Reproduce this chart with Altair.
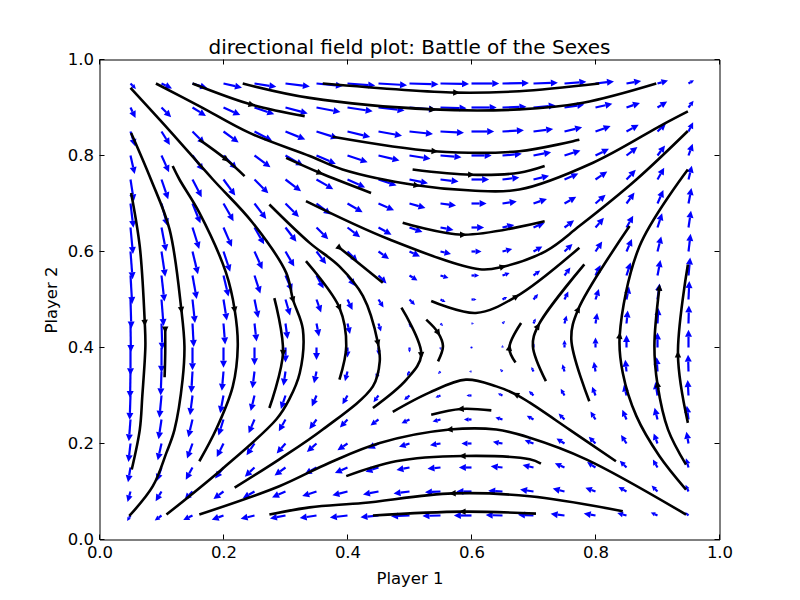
import math
import altair as alt
import pandas as pd

FONT = "DejaVu Sans"

# ---------------- axis ticks ----------------
x_ticks = [0.0, 0.2, 0.4, 0.6, 0.8, 1.0]
y_ticks = [0.0, 0.2, 0.4, 0.6, 0.8, 1.0]

# ---------------- quiver grid ----------------
grid_x = [0.05, 0.10, 0.15, 0.20, 0.25, 0.30, 0.35, 0.40, 0.45, 0.50,
          0.55, 0.60, 0.65, 0.70, 0.75, 0.80, 0.85, 0.90, 0.95]
grid_y = [0.05, 0.10, 0.15, 0.20, 0.25, 0.30, 0.35, 0.40, 0.45, 0.50,
          0.55, 0.60, 0.65, 0.70, 0.75, 0.80, 0.85, 0.90, 0.95]

# horizontal arrow component, one row per grid_y value (bottom to top)
U = [
    [-0.08, -0.16, -0.22, -0.28, -0.33, -0.37, -0.40, -0.42, -0.43, -0.44, -0.43, -0.42, -0.40, -0.37, -0.33, -0.28, -0.22, -0.16, -0.08],
    [-0.07, -0.14, -0.19, -0.24, -0.28, -0.32, -0.34, -0.36, -0.37, -0.38, -0.37, -0.36, -0.34, -0.32, -0.28, -0.24, -0.19, -0.14, -0.07],
    [-0.06, -0.11, -0.16, -0.20, -0.23, -0.26, -0.28, -0.30, -0.31, -0.31, -0.31, -0.30, -0.28, -0.26, -0.23, -0.20, -0.16, -0.11, -0.06],
    [-0.05, -0.09, -0.13, -0.16, -0.19, -0.21, -0.23, -0.24, -0.25, -0.25, -0.25, -0.24, -0.23, -0.21, -0.19, -0.16, -0.13, -0.09, -0.05],
    [-0.04, -0.07, -0.10, -0.12, -0.14, -0.16, -0.17, -0.18, -0.19, -0.19, -0.19, -0.18, -0.17, -0.16, -0.14, -0.12, -0.10, -0.07, -0.04],
    [-0.02, -0.05, -0.06, -0.08, -0.09, -0.11, -0.11, -0.12, -0.12, -0.13, -0.12, -0.12, -0.11, -0.11, -0.09, -0.08, -0.06, -0.05, -0.02],
    [-0.01, -0.02, -0.03, -0.04, -0.05, -0.05, -0.06, -0.06, -0.06, -0.06, -0.06, -0.06, -0.06, -0.05, -0.05, -0.04, -0.03, -0.02, -0.01],
    [0.00, 0.00, 0.00, 0.00, 0.00, 0.00, 0.00, 0.00, 0.00, 0.00, 0.00, 0.00, 0.00, 0.00, 0.00, 0.00, 0.00, 0.00, 0.00],
    [0.01, 0.02, 0.03, 0.04, 0.05, 0.05, 0.06, 0.06, 0.06, 0.06, 0.06, 0.06, 0.06, 0.05, 0.05, 0.04, 0.03, 0.02, 0.01],
    [0.02, 0.05, 0.06, 0.08, 0.09, 0.11, 0.11, 0.12, 0.12, 0.13, 0.12, 0.12, 0.11, 0.11, 0.09, 0.08, 0.06, 0.05, 0.02],
    [0.04, 0.07, 0.10, 0.12, 0.14, 0.16, 0.17, 0.18, 0.19, 0.19, 0.19, 0.18, 0.17, 0.16, 0.14, 0.12, 0.10, 0.07, 0.04],
    [0.05, 0.09, 0.13, 0.16, 0.19, 0.21, 0.23, 0.24, 0.25, 0.25, 0.25, 0.24, 0.23, 0.21, 0.19, 0.16, 0.13, 0.09, 0.05],
    [0.06, 0.11, 0.16, 0.20, 0.23, 0.26, 0.28, 0.30, 0.31, 0.31, 0.31, 0.30, 0.28, 0.26, 0.23, 0.20, 0.16, 0.11, 0.06],
    [0.07, 0.14, 0.19, 0.24, 0.28, 0.32, 0.34, 0.36, 0.37, 0.38, 0.37, 0.36, 0.34, 0.32, 0.28, 0.24, 0.19, 0.14, 0.07],
    [0.08, 0.16, 0.22, 0.28, 0.33, 0.37, 0.40, 0.42, 0.43, 0.44, 0.43, 0.42, 0.40, 0.37, 0.33, 0.28, 0.22, 0.16, 0.08],
    [0.10, 0.18, 0.26, 0.32, 0.38, 0.42, 0.46, 0.48, 0.50, 0.50, 0.50, 0.48, 0.46, 0.42, 0.38, 0.32, 0.26, 0.18, 0.10],
    [0.11, 0.20, 0.29, 0.36, 0.42, 0.47, 0.51, 0.54, 0.56, 0.56, 0.56, 0.54, 0.51, 0.47, 0.42, 0.36, 0.29, 0.20, 0.11],
    [0.12, 0.23, 0.32, 0.40, 0.47, 0.53, 0.57, 0.60, 0.62, 0.63, 0.62, 0.60, 0.57, 0.53, 0.47, 0.40, 0.32, 0.23, 0.12],
    [0.13, 0.25, 0.35, 0.44, 0.52, 0.58, 0.63, 0.66, 0.68, 0.69, 0.68, 0.66, 0.63, 0.58, 0.52, 0.44, 0.35, 0.25, 0.13],
]

# vertical arrow component, one row per grid_y value (bottom to top)
V = [
    [-0.13, -0.12, -0.11, -0.10, -0.08, -0.07, -0.06, -0.05, -0.04, -0.02, -0.01, 0.00, 0.01, 0.02, 0.04, 0.05, 0.06, 0.07, 0.08],
    [-0.25, -0.23, -0.20, -0.18, -0.16, -0.14, -0.11, -0.09, -0.07, -0.05, -0.02, 0.00, 0.02, 0.05, 0.07, 0.09, 0.11, 0.14, 0.16],
    [-0.35, -0.32, -0.29, -0.26, -0.22, -0.19, -0.16, -0.13, -0.10, -0.06, -0.03, 0.00, 0.03, 0.06, 0.10, 0.13, 0.16, 0.19, 0.22],
    [-0.44, -0.40, -0.36, -0.32, -0.28, -0.24, -0.20, -0.16, -0.12, -0.08, -0.04, 0.00, 0.04, 0.08, 0.12, 0.16, 0.20, 0.24, 0.28],
    [-0.52, -0.47, -0.42, -0.38, -0.33, -0.28, -0.23, -0.19, -0.14, -0.09, -0.05, 0.00, 0.05, 0.09, 0.14, 0.19, 0.23, 0.28, 0.33],
    [-0.58, -0.53, -0.47, -0.42, -0.37, -0.32, -0.26, -0.21, -0.16, -0.11, -0.05, 0.00, 0.05, 0.11, 0.16, 0.21, 0.26, 0.32, 0.37],
    [-0.63, -0.57, -0.51, -0.46, -0.40, -0.34, -0.28, -0.23, -0.17, -0.11, -0.06, 0.00, 0.06, 0.11, 0.17, 0.23, 0.28, 0.34, 0.40],
    [-0.66, -0.60, -0.54, -0.48, -0.42, -0.36, -0.30, -0.24, -0.18, -0.12, -0.06, 0.00, 0.06, 0.12, 0.18, 0.24, 0.30, 0.36, 0.42],
    [-0.68, -0.62, -0.56, -0.50, -0.43, -0.37, -0.31, -0.25, -0.19, -0.12, -0.06, 0.00, 0.06, 0.12, 0.19, 0.25, 0.31, 0.37, 0.43],
    [-0.69, -0.63, -0.56, -0.50, -0.44, -0.38, -0.31, -0.25, -0.19, -0.13, -0.06, 0.00, 0.06, 0.13, 0.19, 0.25, 0.31, 0.38, 0.44],
    [-0.68, -0.62, -0.56, -0.50, -0.43, -0.37, -0.31, -0.25, -0.19, -0.12, -0.06, 0.00, 0.06, 0.12, 0.19, 0.25, 0.31, 0.37, 0.43],
    [-0.66, -0.60, -0.54, -0.48, -0.42, -0.36, -0.30, -0.24, -0.18, -0.12, -0.06, 0.00, 0.06, 0.12, 0.18, 0.24, 0.30, 0.36, 0.42],
    [-0.63, -0.57, -0.51, -0.46, -0.40, -0.34, -0.28, -0.23, -0.17, -0.11, -0.06, 0.00, 0.06, 0.11, 0.17, 0.23, 0.28, 0.34, 0.40],
    [-0.58, -0.53, -0.47, -0.42, -0.37, -0.32, -0.26, -0.21, -0.16, -0.11, -0.05, 0.00, 0.05, 0.11, 0.16, 0.21, 0.26, 0.32, 0.37],
    [-0.52, -0.47, -0.42, -0.38, -0.33, -0.28, -0.23, -0.19, -0.14, -0.09, -0.05, 0.00, 0.05, 0.09, 0.14, 0.19, 0.23, 0.28, 0.33],
    [-0.44, -0.40, -0.36, -0.32, -0.28, -0.24, -0.20, -0.16, -0.12, -0.08, -0.04, 0.00, 0.04, 0.08, 0.12, 0.16, 0.20, 0.24, 0.28],
    [-0.35, -0.32, -0.29, -0.26, -0.22, -0.19, -0.16, -0.13, -0.10, -0.06, -0.03, 0.00, 0.03, 0.06, 0.10, 0.13, 0.16, 0.19, 0.22],
    [-0.25, -0.23, -0.20, -0.18, -0.16, -0.14, -0.11, -0.09, -0.07, -0.05, -0.02, 0.00, 0.02, 0.05, 0.07, 0.09, 0.11, 0.14, 0.16],
    [-0.13, -0.12, -0.11, -0.10, -0.08, -0.07, -0.06, -0.05, -0.04, -0.02, -0.01, 0.00, 0.01, 0.02, 0.04, 0.05, 0.06, 0.07, 0.08],
]

# ---------------- streamlines (points listed in the direction of flow) ----------------
left_1 = [(0.051, 0.722), (0.065, 0.610), (0.073, 0.452), (0.074, 0.403), (0.069, 0.298), (0.065, 0.229), (0.052, 0.146)]
left_2 = [(0.106, 0.438), (0.106, 0.388), (0.105, 0.338)]
left_3 = [(0.051, 0.847), (0.083, 0.750), (0.113, 0.646), (0.132, 0.479), (0.137, 0.403), (0.134, 0.333), (0.121, 0.229), (0.108, 0.181), (0.086, 0.111), (0.048, 0.049)]
left_4 = [(0.118, 0.778), (0.129, 0.750), (0.161, 0.681), (0.204, 0.556), (0.218, 0.479), (0.223, 0.403), (0.215, 0.319), (0.188, 0.229), (0.161, 0.163)]
left_5 = [(0.050, 0.941), (0.113, 0.852), (0.183, 0.750), (0.247, 0.660), (0.301, 0.556), (0.312, 0.500), (0.328, 0.438), (0.323, 0.347), (0.306, 0.292), (0.285, 0.250), (0.197, 0.146), (0.108, 0.052)]
left_6 = [(0.282, 0.503), (0.296, 0.389), (0.274, 0.274)]
left_7 = [(0.274, 0.698), (0.339, 0.618), (0.387, 0.569), (0.425, 0.507), (0.449, 0.410), (0.452, 0.371), (0.441, 0.319), (0.360, 0.229), (0.290, 0.167), (0.218, 0.108)]
left_8 = [(0.333, 0.580), (0.387, 0.483), (0.398, 0.403), (0.387, 0.333)]
left_9 = [(0.387, 0.608), (0.457, 0.535)]
center_1 = [(0.527, 0.458), (0.546, 0.431), (0.554, 0.403), (0.546, 0.371)]
center_2 = [(0.487, 0.483), (0.519, 0.385), (0.495, 0.333), (0.441, 0.274)]
top_1 = [(0.301, 0.795), (0.355, 0.764), (0.438, 0.722)]
top_2 = [(0.091, 0.950), (0.161, 0.903), (0.242, 0.847), (0.339, 0.799), (0.392, 0.771), (0.511, 0.738), (0.600, 0.727), (0.677, 0.729), (0.796, 0.785), (0.909, 0.865), (0.949, 0.892)]
top_3 = [(0.231, 0.950), (0.339, 0.920), (0.537, 0.896), (0.677, 0.896), (0.780, 0.910), (0.898, 0.950)]
top_4 = [(0.360, 0.950), (0.575, 0.931), (0.677, 0.934), (0.806, 0.950)]
top_5 = [(0.376, 0.839), (0.540, 0.809), (0.677, 0.809), (0.774, 0.833)]
top_6 = [(0.505, 0.771), (0.599, 0.760), (0.677, 0.764), (0.718, 0.778)]
top_7 = [(0.333, 0.705), (0.468, 0.625), (0.613, 0.563), (0.650, 0.568), (0.720, 0.601), (0.774, 0.653), (0.866, 0.750), (0.949, 0.851)]
top_8 = [(0.535, 0.497), (0.607, 0.472), (0.672, 0.506), (0.774, 0.608)]
top_9 = [(0.489, 0.660), (0.586, 0.635), (0.718, 0.663)]
top_10 = [(0.150, 0.950), (0.245, 0.906), (0.331, 0.882)]
top_11 = [(0.161, 0.833), (0.204, 0.792), (0.234, 0.757)]
right_1 = [(0.671, 0.369), (0.661, 0.399), (0.680, 0.451)]
right_2 = [(0.720, 0.330), (0.699, 0.403), (0.707, 0.444), (0.782, 0.573)]
right_3 = [(0.790, 0.288), (0.761, 0.417), (0.772, 0.479), (0.855, 0.653)]
right_4 = [(0.946, 0.104), (0.903, 0.174), (0.866, 0.257), (0.844, 0.347), (0.839, 0.424), (0.871, 0.611), (0.949, 0.771)]
right_5 = [(0.946, 0.156), (0.917, 0.229), (0.900, 0.323), (0.895, 0.403), (0.903, 0.524)]
right_6 = [(0.949, 0.243), (0.933, 0.385), (0.949, 0.573)]
bottom_1 = [(0.833, 0.163), (0.758, 0.229), (0.694, 0.285), (0.672, 0.302), (0.640, 0.319), (0.591, 0.333), (0.532, 0.306), (0.473, 0.266)]
bottom_2 = [(0.632, 0.269), (0.583, 0.272), (0.535, 0.260)]
bottom_3 = [(0.946, 0.052), (0.785, 0.167), (0.694, 0.212), (0.640, 0.229), (0.565, 0.229), (0.452, 0.201), (0.371, 0.160), (0.290, 0.111), (0.161, 0.052)]
bottom_4 = [(0.712, 0.158), (0.694, 0.167), (0.586, 0.174), (0.478, 0.163), (0.398, 0.132)]
bottom_5 = [(0.844, 0.059), (0.694, 0.090), (0.570, 0.096), (0.425, 0.076), (0.339, 0.067), (0.274, 0.052)]
bottom_6 = [(0.704, 0.054), (0.586, 0.058), (0.441, 0.050)]

# index of the point on each streamline that carries an arrowhead
arrow_points = {
    "left_1": [2], "left_2": [0], "left_3": [3], "left_4": [4], "left_5": [5],
    "left_6": [1], "left_7": [4], "left_8": [1], "left_9": [0],
    "center_1": [1], "center_2": [1],
    "top_1": [1], "top_2": [5], "top_3": [2], "top_4": [1], "top_5": [1],
    "top_6": [1], "top_7": [3], "top_8": [2], "top_9": [1], "top_10": [1], "top_11": [1],
    "right_1": [1], "right_2": [2], "right_3": [2], "right_4": [4], "right_5": [2, 4], "right_6": [1],
    "bottom_1": [3], "bottom_2": [1], "bottom_3": [4], "bottom_4": [2], "bottom_5": [2], "bottom_6": [1],
}

streams = {
    "left_1": left_1, "left_2": left_2, "left_3": left_3, "left_4": left_4, "left_5": left_5,
    "left_6": left_6, "left_7": left_7, "left_8": left_8, "left_9": left_9,
    "center_1": center_1, "center_2": center_2,
    "top_1": top_1, "top_2": top_2, "top_3": top_3, "top_4": top_4, "top_5": top_5,
    "top_6": top_6, "top_7": top_7, "top_8": top_8, "top_9": top_9, "top_10": top_10, "top_11": top_11,
    "right_1": right_1, "right_2": right_2, "right_3": right_3, "right_4": right_4,
    "right_5": right_5, "right_6": right_6,
    "bottom_1": bottom_1, "bottom_2": bottom_2, "bottom_3": bottom_3, "bottom_4": bottom_4,
    "bottom_5": bottom_5, "bottom_6": bottom_6,
}

# ---------------- layout / style ----------------
W, H = 620, 480           # plot area in pixels
K = 42.0                  # pixels per unit of arrow component
HEAD = 7.0                # quiver head length in px
BLUE = "#0000ff"

q_rows, dot_rows = [], []
for j, yv in enumerate(grid_y):
    for i, xv in enumerate(grid_x):
        px = U[j][i] * K
        py = V[j][i] * K
        L = math.hypot(px, py)
        if L < 1.2:
            dot_rows.append({"x": xv, "y": yv})
            continue
        hl = min(HEAD, 0.6 * L)
        f = (L - hl) / L
        q_rows.append({
            "x": xv, "y": yv,
            "x2": xv + px * f / W, "y2": yv + py * f / H,
            "ang": math.degrees(math.atan2(px, py)) % 360,
            "hs": 4 * hl * hl,
        })
quiver = pd.DataFrame(q_rows)
dots = pd.DataFrame(dot_rows)

line_rows, arrow_rows = [], []
for name, pts in streams.items():
    for k, (xv, yv) in enumerate(pts):
        line_rows.append({"sid": name, "o": k, "x": xv, "y": yv})
    for k in arrow_points[name]:
        a = pts[max(k - 1, 0)]
        b = pts[min(k + 1, len(pts) - 1)]
        dxp = (b[0] - a[0]) * W
        dyp = (b[1] - a[1]) * H
        arrow_rows.append({"x": pts[k][0], "y": pts[k][1],
                           "ang": math.degrees(math.atan2(dxp, dyp)) % 360})
lines = pd.DataFrame(line_rows)
sarrows = pd.DataFrame(arrow_rows)
ticks_x = pd.DataFrame({"t": x_ticks})
ticks_y = pd.DataFrame({"t": y_ticks})

sx = alt.Scale(domain=[0, 1], nice=False, zero=False)
sy = alt.Scale(domain=[0, 1], nice=False, zero=False)
ax_x = alt.Axis(values=x_ticks, format=".1f", ticks=False, domain=False, grid=False,
                labelFont=FONT, labelFontSize=16.5, labelColor="black", labelPadding=5,
                labelFlush=False, labelOverlap=False,
                title="Player 1", titleFont=FONT, titleFontSize=16.5,
                titleFontWeight="normal", titleColor="black", titlePadding=9)
ax_y = alt.Axis(values=y_ticks, format=".1f", ticks=False, domain=False, grid=False,
                labelFont=FONT, labelFontSize=16.5, labelColor="black", labelPadding=6,
                labelFlush=False, labelOverlap=False,
                title="Player 2", titleFont=FONT, titleFontSize=16.5,
                titleFontWeight="normal", titleColor="black", titlePadding=8)


def X(f):
    return alt.X(f, type="quantitative", scale=sx, axis=ax_x)


def Y(f):
    return alt.Y(f, type="quantitative", scale=sy, axis=ax_y)


shafts = alt.Chart(quiver).mark_rule(color=BLUE, strokeWidth=2.2, strokeCap="butt").encode(
    x=X("x"), y=Y("y"), x2="x2:Q", y2="y2:Q")

heads = alt.Chart(quiver).mark_point(
    shape="M0,-1L0.5,0L-0.5,0Z", filled=True, color=BLUE, opacity=1, strokeWidth=0
).encode(x=X("x2"), y=Y("y2"),
         angle=alt.Angle("ang:Q", scale=None),
         size=alt.Size("hs:Q", scale=None))

center_dots = alt.Chart(dots).mark_point(filled=True, color=BLUE, size=5, opacity=1).encode(
    x=X("x"), y=Y("y"))

stream_lines = alt.Chart(lines).mark_line(
    color="black", strokeWidth=2.6, interpolate="catmull-rom"
).encode(x=X("x"), y=Y("y"), detail="sid:N", order="o:Q")

stream_heads = alt.Chart(sarrows).mark_point(
    shape="M0,-1L0.8,0.7L-0.8,0.7Z", filled=True, color="black", opacity=1, size=64, strokeWidth=0
).encode(x=X("x"), y=Y("y"), angle=alt.Angle("ang:Q", scale=None))

tick_b = alt.Chart(ticks_x).mark_rule(color="black", strokeWidth=1).encode(
    x=X("t"), y=alt.value(H), y2=alt.value(H - 5))
tick_t = alt.Chart(ticks_x).mark_rule(color="black", strokeWidth=1).encode(
    x=X("t"), y=alt.value(0), y2=alt.value(5))
tick_l = alt.Chart(ticks_y).mark_rule(color="black", strokeWidth=1).encode(
    y=Y("t"), x=alt.value(0), x2=alt.value(5))
tick_r = alt.Chart(ticks_y).mark_rule(color="black", strokeWidth=1).encode(
    y=Y("t"), x=alt.value(W), x2=alt.value(W - 5))

chart = alt.layer(
    shafts, heads, center_dots, stream_lines, stream_heads, tick_b, tick_t, tick_l, tick_r
).properties(
    width=W, height=H,
    background="white",
    title=alt.TitleParams("directional field plot: Battle of the Sexes", font=FONT, fontSize=20,
                          fontWeight="normal", color="black", anchor="middle", offset=-6),
    autosize=alt.AutoSizeParams(type="none"),
    padding={"left": 91.5, "top": 51.5, "right": 72.5, "bottom": 52.5},
).configure_view(
    stroke="#000000", strokeWidth=1, strokeOpacity=1
)

chart.save("out.html", embed_options={"renderer": "svg", "actions": False})
